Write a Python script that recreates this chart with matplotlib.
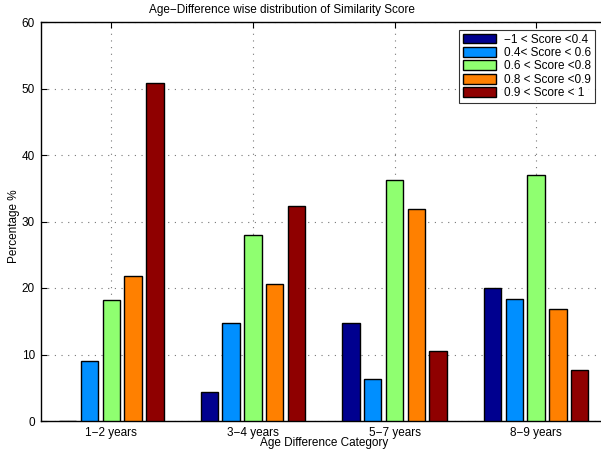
import numpy as np
import matplotlib
matplotlib.use('Agg')
import matplotlib.pyplot as plt

plt.rcParams['font.family'] = ['Liberation Sans', 'DejaVu Sans']

# 数据
categories = ['1\u22122 years', '3\u22124 years', '5\u22127 years', '8\u22129 years']
series_names = ['\u22121 < Score <0.4', '0.4< Score < 0.6', '0.6 < Score <0.8',
                '0.8 < Score <0.9', '0.9 < Score < 1']
score_m1_04 = [0.0, 4.3, 14.8, 20.0]
score_04_06 = [9.0, 14.7, 6.3, 18.4]
score_06_08 = [18.2, 28.0, 36.2, 37.0]
score_08_09 = [21.8, 20.6, 31.9, 16.8]
score_09_1 = [50.9, 32.4, 10.6, 7.7]
colors = ['#00008f', '#008fff', '#8fff70', '#ff8000', '#8f0000']

series = [score_m1_04, score_04_06, score_06_08, score_08_09, score_09_1]

fig = plt.figure(figsize=(6.01, 4.55), dpi=100)
ax = fig.add_axes([40.5 / 601, 34 / 455, (607 - 40.5) / 601, 399 / 455])

x = np.arange(1, len(categories) + 1)
n = len(series)
group_w = min(0.8, n / (n + 1.5))
pitch = group_w / n
for i, (vals, name, c) in enumerate(zip(series, series_names, colors)):
    offs = (i - (n - 1) / 2) * pitch
    ax.bar(x + offs, vals, width=pitch * 0.8, color=c, edgecolor='black',
           linewidth=1.0, label=name, zorder=3)

ax.set_xlim(0.5, 4.5)
ax.set_ylim(0, 60)
ax.set_yticks(range(0, 61, 10))
ax.set_xticks(x)
ax.set_xticklabels(categories)
ax.tick_params(direction='in', labelsize=8.5, top=True, right=False, length=4, pad=4)
ax.grid(True, linestyle=(0, (1, 5)), color='#777777', linewidth=0.8, zorder=0)
for s in ax.spines.values():
    s.set_linewidth(1.0)
ax.spines['right'].set_visible(False)

# 标题位置和原图一致（不在坐标轴中间）
fig.text(281.5 / 601, 1 - 10 / 455, 'Age\u2212Difference wise distribution of Similarity Score',
         fontsize=8.5, ha='center', va='center')
ax.set_xlabel('Age Difference Category', fontsize=8.5, labelpad=-1)
ax.set_ylabel('Percentage %', fontsize=8.5)
ax.yaxis.set_label_coords(-0.037, 0.487)

leg = ax.legend(loc='upper left', bbox_to_anchor=(459 / 601, 1 - 30 / 455), bbox_transform=fig.transFigure,
                fontsize=8.5, frameon=True, fancybox=False, edgecolor='black',
                handlelength=2.8, handleheight=0.9, labelspacing=0.12, borderpad=0.3,
                handletextpad=0.7, borderaxespad=0)
leg.get_frame().set_linewidth(0.8)
leg.set_zorder(5)

plt.savefig('out.png', dpi=100)
